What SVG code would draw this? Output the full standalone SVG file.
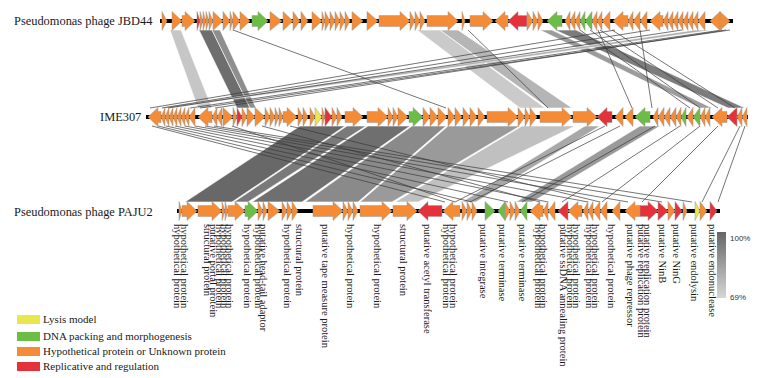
<svg xmlns="http://www.w3.org/2000/svg" width="760" height="378" viewBox="0 0 760 378">
<defs>
<linearGradient id="gr" x1="0" y1="0" x2="0" y2="1"><stop offset="0" stop-color="#666"/><stop offset="1" stop-color="#d6d6d6"/></linearGradient>
</defs>
<style>
.o{fill:#F58B34}.g{fill:#6CBD45}.r{fill:#E5323A}.y{fill:#E8E84C}
.trk polygon{stroke:#9a9a9a;stroke-width:.5}
.bb{stroke:#000;stroke-width:4}
.ln{stroke:#3a3a3a;stroke-width:.7;fill:none}
.bd{stroke:#fff;stroke-width:.6}
.nm{font-family:"Liberation Serif","Times New Roman",serif;font-size:12.4px;fill:#1a1a1a}
.lb{font-family:"Liberation Serif","Times New Roman",serif;font-size:10.5px;fill:#1a1a1a}
.lg{font-family:"Liberation Serif","Times New Roman",serif;font-size:11px;fill:#1a1a1a}
.pc{font-family:"Liberation Sans",Arial,sans-serif;font-size:8px;fill:#333}
</style>
<rect width="760" height="378" fill="#fff"/>
<g id="connectors">
<polygon class="bd" fill="#c6c6c6" points="170,30 181,30 212,108 198,108"/>
<polygon class="bd" fill="#6e6e6e" points="199,30 212,30 250,108 237,108"/>
<polygon class="bd" fill="#8e8e8e" points="212,30 220,30 256,108 250,108"/>
<polygon class="bd" fill="#cacaca" points="417,30 440,30 545,108 520,108"/>
<polygon class="bd" fill="#b5b5b5" points="440,30 458,30 572,108 548,108"/>
<polygon class="bd" fill="#9c9c9c" points="540,30 552,30 712,108 700,108"/>
<polygon class="bd" fill="#7c7c7c" points="555,30 576,30 745,108 728,108"/>
<polygon class="bd" fill="#b0b0b0" points="695,30 712,30 172,108 158,108"/>
<line class="ln" x1="233" y1="30" x2="446" y2="108"/>
<line class="ln" x1="468" y1="30" x2="548" y2="108"/>
<line class="ln" x1="615" y1="30" x2="150" y2="108"/>
<line class="ln" x1="650" y1="30" x2="162" y2="108"/>
<line class="ln" x1="682" y1="30" x2="168" y2="108"/>
<line class="ln" x1="722" y1="30" x2="190" y2="108"/>
<line class="ln" x1="730" y1="30" x2="200" y2="108"/>
<line class="ln" x1="726" y1="30" x2="215" y2="108"/>
<line class="ln" x1="598" y1="30" x2="632" y2="108"/>
<line class="ln" x1="640" y1="30" x2="652" y2="108"/>
<line class="ln" x1="580" y1="30" x2="690" y2="108"/>
<line class="ln" x1="590" y1="30" x2="700" y2="108"/>
<line class="ln" x1="600" y1="30" x2="718" y2="108"/>
<line class="ln" x1="612" y1="30" x2="735" y2="108"/>
<polygon class="bd" fill="#686868" points="300,126 345,126 232,202 185,202"/>
<polygon class="bd" fill="#7a7a7a" points="347,126 366,126 248,202 234,202"/>
<polygon class="bd" fill="#6f6f6f" points="368,126 410,126 302,202 252,202"/>
<polygon class="bd" fill="#8a8a8a" points="412,126 446,126 358,202 305,202"/>
<polygon class="bd" fill="#9a9a9a" points="448,126 520,126 392,202 360,202"/>
<polygon class="bd" fill="#c0c0c0" points="522,126 575,126 418,202 395,202"/>
<polygon class="bd" fill="#a8a8a8" points="585,126 600,126 476,202 462,202"/>
<polygon class="bd" fill="#9a9a9a" points="640,126 660,126 532,202 516,202"/>
<line class="ln" x1="152" y1="126" x2="445" y2="202"/>
<line class="ln" x1="158" y1="126" x2="472" y2="202"/>
<line class="ln" x1="166" y1="126" x2="508" y2="202"/>
<line class="ln" x1="175" y1="126" x2="548" y2="202"/>
<line class="ln" x1="185" y1="126" x2="588" y2="202"/>
<line class="ln" x1="195" y1="126" x2="628" y2="202"/>
<line class="ln" x1="205" y1="126" x2="662" y2="202"/>
<line class="ln" x1="214" y1="126" x2="692" y2="202"/>
<line class="ln" x1="232" y1="126" x2="455" y2="202"/>
<line class="ln" x1="262" y1="126" x2="540" y2="202"/>
<line class="ln" x1="290" y1="126" x2="600" y2="202"/>
<line class="ln" x1="605" y1="126" x2="455" y2="202"/>
<line class="ln" x1="620" y1="126" x2="470" y2="202"/>
<line class="ln" x1="655" y1="126" x2="522" y2="202"/>
<line class="ln" x1="680" y1="126" x2="562" y2="202"/>
<line class="ln" x1="700" y1="126" x2="602" y2="202"/>
<line class="ln" x1="718" y1="126" x2="642" y2="202"/>
<line class="ln" x1="740" y1="126" x2="702" y2="202"/>
<line class="ln" x1="745" y1="126" x2="718" y2="202"/>
</g>
<g id="jbd44">
<text class="nm" x="14" y="25">Pseudomonas phage JBD44</text>
<g class="trk" transform="translate(0,21)">
<line class="bb" x1="160" y1="0" x2="733" y2="0"/>
<polygon class="o" points="162,-9.5 167,0 162,9.5"/>
<polygon class="o" points="172,-9.5 182,0 172,9.5"/>
<polygon class="o" points="182,-5.5 185,-5.5 185,-9.5 195,0 185,9.5 185,5.5 182,5.5"/>
<polygon class="r" points="197,-9.5 200,0 197,9.5"/>
<polygon class="o" points="200,-9.5 203,0 200,9.5"/>
<polygon class="o" points="203,-9.5 206,0 203,9.5"/>
<polygon class="o" points="206,-9.5 209,0 206,9.5"/>
<polygon class="o" points="209,-9.5 213,0 209,9.5"/>
<polygon class="o" points="213,-9.5 223,0 213,9.5"/>
<polygon class="o" points="223,-9.5 230,0 223,9.5"/>
<polygon class="o" points="230,-9.5 233,0 230,9.5"/>
<polygon class="o" points="233,-9.5 240,0 233,9.5"/>
<polygon class="o" points="240,-9.5 250,0 240,9.5"/>
<polygon class="g" points="252,-5.5 258,-5.5 258,-9.5 268,0 258,9.5 258,5.5 252,5.5"/>
<polygon class="o" points="270,-9.5 282,0 270,9.5"/>
<polygon class="o" points="283,-9.5 293,0 283,9.5"/>
<polygon class="o" points="293,-9.5 300,0 293,9.5"/>
<polygon class="o" points="301,-9.5 308,0 301,9.5"/>
<polygon class="o" points="312,-9.5 322,0 312,9.5"/>
<polygon class="o" points="322,-9.5 325,0 322,9.5"/>
<polygon class="o" points="325,-9.5 330,0 325,9.5"/>
<polygon class="o" points="330,-9.5 335,0 330,9.5"/>
<polygon class="o" points="335,-9.5 340,0 335,9.5"/>
<polygon class="o" points="340,-9.5 345,0 340,9.5"/>
<polygon class="o" points="345,-9.5 350,0 345,9.5"/>
<polygon class="o" points="352,-9.5 363,0 352,9.5"/>
<polygon class="o" points="367,-9.5 378,0 367,9.5"/>
<polygon class="o" points="379,-5.5 400,-5.5 400,-9.5 410,0 400,9.5 400,5.5 379,5.5"/>
<polygon class="o" points="410,-9.5 415,0 410,9.5"/>
<polygon class="o" points="415,-9.5 420,0 415,9.5"/>
<polygon class="o" points="420,-9.5 425,0 420,9.5"/>
<polygon class="o" points="427,-5.5 448,-5.5 448,-9.5 458,0 448,9.5 448,5.5 427,5.5"/>
<polygon class="o" points="462,-9.5 465,0 462,9.5"/>
<polygon class="o" points="470,-5.5 483,-5.5 483,-9.5 493,0 483,9.5 483,5.5 470,5.5"/>
<polygon class="o" points="508,-5.5 505,-5.5 505,-9.5 495,0 505,9.5 505,5.5 508,5.5"/>
<polygon class="r" points="527,-5.5 518,-5.5 518,-9.5 508,0 518,9.5 518,5.5 527,5.5"/>
<polygon class="o" points="527,-9.5 533,0 527,9.5"/>
<polygon class="o" points="533,-9.5 538,0 533,9.5"/>
<polygon class="o" points="538,-9.5 543,0 538,9.5"/>
<polygon class="g" points="562,-5.5 557,-5.5 557,-9.5 547,0 557,9.5 557,5.5 562,5.5"/>
<polygon class="o" points="570,-9.5 565,0 570,9.5"/>
<polygon class="o" points="575,-9.5 570,0 575,9.5"/>
<polygon class="o" points="580,-9.5 575,0 580,9.5"/>
<polygon class="g" points="585,-9.5 580,0 585,9.5"/>
<polygon class="g" points="592,-9.5 585,0 592,9.5"/>
<polygon class="o" points="597,-9.5 592,0 597,9.5"/>
<polygon class="o" points="602,-9.5 597,0 602,9.5"/>
<polygon class="o" points="610,-9.5 602,0 610,9.5"/>
<polygon class="o" points="628,-5.5 623,-5.5 623,-9.5 613,0 623,9.5 623,5.5 628,5.5"/>
<polygon class="o" points="633,-9.5 628,0 633,9.5"/>
<polygon class="o" points="640,-9.5 633,0 640,9.5"/>
<polygon class="o" points="647,-9.5 640,0 647,9.5"/>
<polygon class="o" points="663,-5.5 660,-5.5 660,-9.5 650,0 660,9.5 660,5.5 663,5.5"/>
<polygon class="o" points="668,-9.5 663,0 668,9.5"/>
<polygon class="o" points="673,-9.5 668,0 673,9.5"/>
<polygon class="o" points="678,-9.5 673,0 678,9.5"/>
<polygon class="o" points="683,-9.5 678,0 683,9.5"/>
<polygon class="o" points="688,-9.5 683,0 688,9.5"/>
<polygon class="o" points="693,-9.5 688,0 693,9.5"/>
<polygon class="o" points="698,-9.5 693,0 698,9.5"/>
<polygon class="o" points="705,-9.5 698,0 705,9.5"/>
<polygon class="o" points="720,-9.5 710,0 720,9.5"/>
<polygon class="o" points="720,-9.5 730,0 720,9.5"/>
</g>
</g>
<g id="ime307">
<text class="nm" x="100" y="121">IME307</text>
<g class="trk" transform="translate(0,117)">
<line class="bb" x1="146" y1="0" x2="748" y2="0"/>
<polygon class="o" points="161,-5.5 158,-5.5 158,-9.5 148,0 158,9.5 158,5.5 161,5.5"/>
<polygon class="o" points="165,-9.5 161,0 165,9.5"/>
<polygon class="o" points="169,-9.5 165,0 169,9.5"/>
<polygon class="o" points="173,-9.5 169,0 173,9.5"/>
<polygon class="o" points="177,-9.5 173,0 177,9.5"/>
<polygon class="o" points="181,-9.5 177,0 181,9.5"/>
<polygon class="o" points="185,-9.5 181,0 185,9.5"/>
<polygon class="o" points="189,-9.5 185,0 189,9.5"/>
<polygon class="o" points="195,-9.5 189,0 195,9.5"/>
<polygon class="o" points="212,-5.5 208,-5.5 208,-9.5 198,0 208,9.5 208,5.5 212,5.5"/>
<polygon class="o" points="217,-9.5 212,0 217,9.5"/>
<polygon class="o" points="222,-9.5 217,0 222,9.5"/>
<polygon class="o" points="223,-9.5 233,0 223,9.5"/>
<polygon class="o" points="233,-9.5 237,0 233,9.5"/>
<polygon class="r" points="237,-9.5 242,0 237,9.5"/>
<polygon class="o" points="242,-9.5 247,0 242,9.5"/>
<polygon class="o" points="247,-9.5 255,0 247,9.5"/>
<polygon class="o" points="255,-9.5 265,0 255,9.5"/>
<polygon class="o" points="265,-9.5 270,0 265,9.5"/>
<polygon class="o" points="270,-9.5 275,0 270,9.5"/>
<polygon class="o" points="275,-9.5 279,0 275,9.5"/>
<polygon class="o" points="279,-9.5 283,0 279,9.5"/>
<polygon class="o" points="283,-5.5 287,-5.5 287,-9.5 297,0 287,9.5 287,5.5 283,5.5"/>
<polygon class="o" points="298,-9.5 303,0 298,9.5"/>
<polygon class="o" points="303,-9.5 308,0 303,9.5"/>
<polygon class="o" points="310,-9.5 315,0 310,9.5"/>
<polygon class="y" points="315,-9.5 322,0 315,9.5"/>
<polygon class="o" points="322,-9.5 325,0 322,9.5"/>
<polygon class="r" points="325,-9.5 332,0 325,9.5"/>
<polygon class="o" points="332,-9.5 337,0 332,9.5"/>
<polygon class="o" points="337,-9.5 342,0 337,9.5"/>
<polygon class="o" points="345,-5.5 353,-5.5 353,-9.5 363,0 353,9.5 353,5.5 345,5.5"/>
<polygon class="o" points="367,-5.5 378,-5.5 378,-9.5 388,0 378,9.5 378,5.5 367,5.5"/>
<polygon class="o" points="388,-9.5 393,0 388,9.5"/>
<polygon class="o" points="393,-9.5 398,0 393,9.5"/>
<polygon class="o" points="398,-9.5 408,0 398,9.5"/>
<polygon class="g" points="409,-5.5 413,-5.5 413,-9.5 423,0 413,9.5 413,5.5 409,5.5"/>
<polygon class="o" points="423,-9.5 430,0 423,9.5"/>
<polygon class="o" points="430,-9.5 438,0 430,9.5"/>
<polygon class="o" points="438,-9.5 447,0 438,9.5"/>
<polygon class="o" points="448,-9.5 455,0 448,9.5"/>
<polygon class="o" points="455,-9.5 462,0 455,9.5"/>
<polygon class="o" points="463,-9.5 470,0 463,9.5"/>
<polygon class="o" points="470,-9.5 477,0 470,9.5"/>
<polygon class="o" points="478,-9.5 485,0 478,9.5"/>
<polygon class="o" points="487,-5.5 508,-5.5 508,-9.5 518,0 508,9.5 508,5.5 487,5.5"/>
<polygon class="o" points="518,-9.5 525,0 518,9.5"/>
<polygon class="o" points="525,-9.5 530,0 525,9.5"/>
<polygon class="o" points="530,-9.5 537,0 530,9.5"/>
<polygon class="o" points="540,-5.5 562,-5.5 562,-9.5 572,0 562,9.5 562,5.5 540,5.5"/>
<polygon class="o" points="573,-5.5 587,-5.5 587,-9.5 597,0 587,9.5 587,5.5 573,5.5"/>
<polygon class="r" points="612,-5.5 607,-5.5 607,-9.5 597,0 607,9.5 607,5.5 612,5.5"/>
<polygon class="o" points="623,-9.5 615,0 623,9.5"/>
<polygon class="o" points="633,-9.5 625,0 633,9.5"/>
<polygon class="g" points="650,-5.5 645,-5.5 645,-9.5 635,0 645,9.5 645,5.5 650,5.5"/>
<polygon class="o" points="658,-9.5 653,0 658,9.5"/>
<polygon class="o" points="664,-9.5 658,0 664,9.5"/>
<polygon class="o" points="670,-9.5 664,0 670,9.5"/>
<polygon class="o" points="676,-9.5 670,0 676,9.5"/>
<polygon class="o" points="681,-9.5 676,0 681,9.5"/>
<polygon class="g" points="686,-9.5 681,0 686,9.5"/>
<polygon class="o" points="693,-9.5 687,0 693,9.5"/>
<polygon class="g" points="700,-9.5 693,0 700,9.5"/>
<polygon class="o" points="705,-9.5 700,0 705,9.5"/>
<polygon class="o" points="710,-9.5 705,0 710,9.5"/>
<polygon class="o" points="727,-5.5 722,-5.5 722,-9.5 712,0 722,9.5 722,5.5 727,5.5"/>
<polygon class="r" points="737,-9.5 727,0 737,9.5"/>
<polygon class="o" points="742,-9.5 737,0 742,9.5"/>
<polygon class="o" points="747,-9.5 742,0 747,9.5"/>
</g>
</g>
<g id="paju2">
<text class="nm" x="14" y="216">Pseudomonas phage PAJU2</text>
<g class="trk" transform="translate(0,211)">
<line class="bb" x1="177" y1="0" x2="720" y2="0"/>
<polygon class="o" points="179,-9.5 182,0 179,9.5"/>
<polygon class="o" points="182,-5.5 187,-5.5 187,-9.5 197,0 187,9.5 187,5.5 182,5.5"/>
<polygon class="o" points="198,-5.5 212,-5.5 212,-9.5 222,0 212,9.5 212,5.5 198,5.5"/>
<polygon class="o" points="222,-9.5 225,0 222,9.5"/>
<polygon class="o" points="225,-9.5 228,0 225,9.5"/>
<polygon class="o" points="228,-5.5 235,-5.5 235,-9.5 245,0 235,9.5 235,5.5 228,5.5"/>
<polygon class="g" points="245,-5.5 248,-5.5 248,-9.5 258,0 248,9.5 248,5.5 245,5.5"/>
<polygon class="o" points="258,-9.5 263,0 258,9.5"/>
<polygon class="o" points="263,-9.5 267,0 263,9.5"/>
<polygon class="o" points="268,-9.5 280,0 268,9.5"/>
<polygon class="o" points="282,-9.5 287,0 282,9.5"/>
<polygon class="o" points="287,-9.5 292,0 287,9.5"/>
<polygon class="o" points="292,-9.5 298,0 292,9.5"/>
<polygon class="o" points="313,-5.5 333,-5.5 333,-9.5 343,0 333,9.5 333,5.5 313,5.5"/>
<polygon class="o" points="343,-9.5 348,0 343,9.5"/>
<polygon class="o" points="348,-9.5 353,0 348,9.5"/>
<polygon class="o" points="353,-9.5 358,0 353,9.5"/>
<polygon class="o" points="360,-5.5 382,-5.5 382,-9.5 392,0 382,9.5 382,5.5 360,5.5"/>
<polygon class="o" points="393,-5.5 407,-5.5 407,-9.5 417,0 407,9.5 407,5.5 393,5.5"/>
<polygon class="r" points="442,-5.5 428,-5.5 428,-9.5 418,0 428,9.5 428,5.5 442,5.5"/>
<polygon class="o" points="460,-5.5 453,-5.5 453,-9.5 443,0 453,9.5 453,5.5 460,5.5"/>
<polygon class="o" points="462,-9.5 467,0 462,9.5"/>
<polygon class="o" points="467,-9.5 472,0 467,9.5"/>
<polygon class="o" points="472,-9.5 477,0 472,9.5"/>
<polygon class="g" points="485,-9.5 495,0 485,9.5"/>
<polygon class="g" points="505,-9.5 498,0 505,9.5"/>
<polygon class="o" points="505,-9.5 510,0 505,9.5"/>
<polygon class="o" points="510,-9.5 515,0 510,9.5"/>
<polygon class="o" points="515,-9.5 520,0 515,9.5"/>
<polygon class="g" points="527,-9.5 520,0 527,9.5"/>
<polygon class="o" points="543,-5.5 540,-5.5 540,-9.5 530,0 540,9.5 540,5.5 543,5.5"/>
<polygon class="o" points="548,-9.5 543,0 548,9.5"/>
<polygon class="o" points="555,-9.5 548,0 555,9.5"/>
<polygon class="r" points="568,-9.5 558,0 568,9.5"/>
<polygon class="o" points="582,-5.5 578,-5.5 578,-9.5 568,0 578,9.5 578,5.5 582,5.5"/>
<polygon class="o" points="588,-9.5 583,0 588,9.5"/>
<polygon class="o" points="593,-9.5 588,0 593,9.5"/>
<polygon class="o" points="600,-9.5 593,0 600,9.5"/>
<polygon class="o" points="607,-9.5 600,0 607,9.5"/>
<polygon class="o" points="620,-9.5 612,0 620,9.5"/>
<polygon class="o" points="640,-5.5 635,-5.5 635,-9.5 625,0 635,9.5 635,5.5 640,5.5"/>
<polygon class="r" points="640,-5.5 648,-5.5 648,-9.5 658,0 648,9.5 648,5.5 640,5.5"/>
<polygon class="r" points="658,-9.5 668,0 658,9.5"/>
<polygon class="o" points="668,-9.5 675,0 668,9.5"/>
<polygon class="r" points="675,-9.5 682,0 675,9.5"/>
<polygon class="o" points="683,-9.5 687,0 683,9.5"/>
<polygon class="y" points="695,-9.5 700,0 695,9.5"/>
<polygon class="o" points="700,-9.5 707,0 700,9.5"/>
<polygon class="r" points="710,-9.5 717,0 710,9.5"/>
</g>
</g>
<g id="gene-labels">
<text class="lb" transform="translate(174,224) rotate(90)">hypothetical protein</text>
<text class="lb" transform="translate(181,224) rotate(90)">hypothetical protein</text>
<text class="lb" transform="translate(204,224) rotate(90)">structural protein</text>
<text class="lb" transform="translate(210,224) rotate(90)">putative portal protein</text>
<text class="lb" transform="translate(216,224) rotate(90)">hypothetical protein</text>
<text class="lb" transform="translate(221,224) rotate(90)">hypothetical protein</text>
<text class="lb" transform="translate(226,224) rotate(90)">hypothetical protein</text>
<text class="lb" transform="translate(244,224) rotate(90)">hypothetical protein</text>
<text class="lb" transform="translate(255,224) rotate(90)">hypothetical protein</text>
<text class="lb" transform="translate(260,224) rotate(90)">putative head-tail adaptor</text>
<text class="lb" transform="translate(284,224) rotate(90)">hypothetical protein</text>
<text class="lb" transform="translate(296,224) rotate(90)">structural protein</text>
<text class="lb" transform="translate(322,224) rotate(90)">putative tape measure protein</text>
<text class="lb" transform="translate(347,224) rotate(90)">hypothetical protein</text>
<text class="lb" transform="translate(374,224) rotate(90)">hypothetical protein</text>
<text class="lb" transform="translate(400,224) rotate(90)">structural protein</text>
<text class="lb" transform="translate(424,224) rotate(90)">putative acetyl transferase</text>
<text class="lb" transform="translate(443,224) rotate(90)">hypothetical protein</text>
<text class="lb" transform="translate(450,224) rotate(90)">hypothetical protein</text>
<text class="lb" transform="translate(480,224) rotate(90)">putative integrase</text>
<text class="lb" transform="translate(499,224) rotate(90)">putative terminase</text>
<text class="lb" transform="translate(519,224) rotate(90)">putative terminase</text>
<text class="lb" transform="translate(535,224) rotate(90)">hypothetical protein</text>
<text class="lb" transform="translate(540,224) rotate(90)">hypothetical protein</text>
<text class="lb" transform="translate(560,224) rotate(90)">putative ssDNA annealing protein</text>
<text class="lb" transform="translate(567,224) rotate(90)">hypothetical protein</text>
<text class="lb" transform="translate(573,224) rotate(90)">hypothetical protein</text>
<text class="lb" transform="translate(586,224) rotate(90)">hypothetical protein</text>
<text class="lb" transform="translate(592,224) rotate(90)">hypothetical protein</text>
<text class="lb" transform="translate(608,224) rotate(90)">hypothetical protein</text>
<text class="lb" transform="translate(627,224) rotate(90)">putative phage repressor</text>
<text class="lb" transform="translate(638,224) rotate(90)">putative replication protein</text>
<text class="lb" transform="translate(644,224) rotate(90)">putative replication protein</text>
<text class="lb" transform="translate(659,224) rotate(90)">putative NinB</text>
<text class="lb" transform="translate(673,224) rotate(90)">putative NinG</text>
<text class="lb" transform="translate(691,224) rotate(90)">putative endolysin</text>
<text class="lb" transform="translate(709,224) rotate(90)">putative endonuclease</text>
</g>
<g id="scale">
<rect x="717" y="232" width="9" height="66" fill="url(#gr)"/>
<text class="pc" x="730" y="241">100%</text>
<text class="pc" x="730" y="300">69%</text>
</g>
<g id="legend">
<rect x="17" y="315" width="23" height="9" class="y"/>
<text class="lg" x="43" y="323">Lysis model</text>
<rect x="17" y="332" width="23" height="9" class="g"/>
<text class="lg" x="43" y="340">DNA packing and morphogenesis</text>
<rect x="17" y="347" width="23" height="9" class="o"/>
<text class="lg" x="43" y="355">Hypothetical protein or Unknown protein</text>
<rect x="17" y="362" width="23" height="9" class="r"/>
<text class="lg" x="43" y="370">Replicative and regulation</text>
</g>
</svg>
